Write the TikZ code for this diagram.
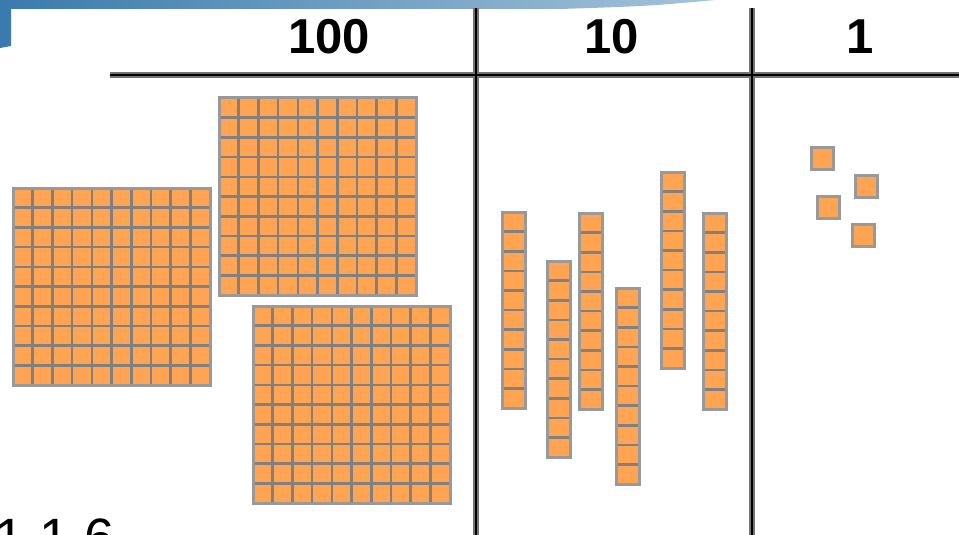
\documentclass[tikz,border=0pt]{standalone}
\usepackage{fontspec}
\setmainfont{Liberation Sans}
\usepackage{tikz}
\usetikzlibrary{positioning}

\definecolor{blockorange}{RGB}{255,164,82}
\definecolor{gridgray}{RGB}{128,128,128}
\definecolor{bannerblue}{RGB}{58,122,172}

\begin{document}
\begin{tikzpicture}[x=1pt, y=-1pt, every node/.style={inner sep=0pt, font=\fontsize{49}{49}\selectfont\bfseries}, rulehalo/.style={line width=5.5pt, draw=black!55}, rulecore/.style={line width=2pt, draw=black}, cell/.style={draw=gridgray, line width=2.6pt}, edge/.style={draw=gridgray!80, line width=3pt},
  flat/.pic={\fill[blockorange] (0,0) rectangle (197,197);
    \foreach \k in {1,...,9} {\draw[cell] (\k*19.7,0) -- (\k*19.7,197); \draw[cell] (0,\k*19.7) -- (197,\k*19.7);}
    \draw[edge] (0,0) rectangle (197,197);},
  rod/.pic={\fill[blockorange] (0,0) rectangle (23,196);
    \foreach \k in {1,...,9} \draw[cell] (0,\k*19.6) -- (23,\k*19.6);
    \draw[edge] (0,0) rectangle (23,196);},
  unit/.pic={\fill[blockorange] (0,0) rectangle (22,22); \draw[edge] (0,0) rectangle (22,22);}]
      \fill[white] (0,0) rectangle (959,535); \useasboundingbox (0,0) rectangle (959,535);
      % banner
      \shade[left color=bannerblue, right color=bannerblue!45] (0,0) -- (715,0) .. controls (650,6) .. (560,9) -- (11,9) -- (11,46) -- (0,48) -- cycle;

      % place value chart
      \draw[rulehalo] (110,75) -- (959,75); \draw[rulehalo] (476,8) -- (476,535); \draw[rulehalo] (752,8) -- (752,535);
      \draw[rulecore] (110,75) -- (959,75); \draw[rulecore] (476,8) -- (476,535); \draw[rulecore] (752,8) -- (752,535);
      \node[anchor=base] (hundreds) at (329,54) {100}; \node[anchor=base] (tens) at (612,54) {10};
      \node[anchor=base] (ones) at (860,54) {1};

      % hundreds
      \pic (flatA) at (13,188) {flat}; \pic (flatB) at (219,98) {flat}; \pic (flatC) at (253,306) {flat};
      % tens
      \pic (rodA) at (502,212) {rod}; \pic (rodB) at (547,261) {rod}; \pic (rodC) at (579,213) {rod};
      \pic (rodD) at (616,288) {rod}; \pic (rodE) at (661,172) {rod}; \pic (rodF) at (703,213) {rod};
      % ones
      \pic (unitA) at (811,147) {unit}; \pic (unitB) at (855,175) {unit}; \pic (unitC) at (817,196) {unit};
      \pic (unitD) at (852,224) {unit};

      \node[anchor=base west, font=\fontsize{54}{54}\selectfont] (caption) at (-6,556) {1 1 6};
    \end{tikzpicture}
\end{document}
